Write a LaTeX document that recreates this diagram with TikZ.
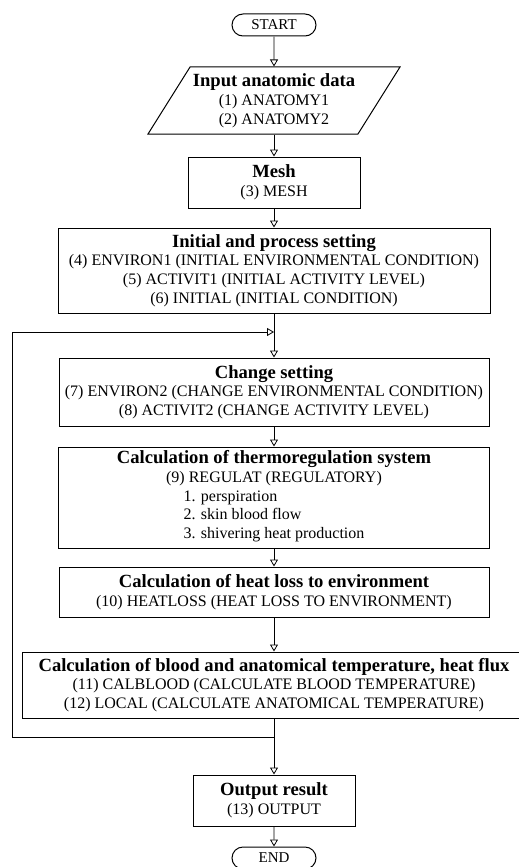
\documentclass[tikz,border=0pt]{standalone}
\usepackage{fontspec}
\setmainfont{Liberation Serif}
\usetikzlibrary{arrows.meta,shapes.geometric,shapes.misc,positioning}
\tikzset{
    flow/.style={-{Triangle[open, length=7pt, width=8pt]}, line width=0.8pt},
    box/.style={draw, rectangle, line width=1pt, align=center, inner sep=0pt, font=\fontsize{16}{18.75}\selectfont},
    term/.style={draw, rounded rectangle, line width=1pt, minimum width=84, minimum height=22, inner sep=0pt, font=\fontsize{15}{15}\selectfont},
    inout/.style={box, trapezium, trapezium left angle=52, trapezium right angle=128, trapezium stretches body, minimum width=252, minimum height=67}
}
\newcommand{\ttl}[1]{{\fontsize{18.6}{18.75}\selectfont\bfseries #1}}

\begin{document}
\begin{tikzpicture}[x=1pt, y=-1pt]
    \useasboundingbox (0,0) rectangle (519,867);
    \node[term] (start) at (274,25) {START};
    \node[inout] (input) at (274,100.5) {\ttl{Input anatomic data}\\(1) ANATOMY1\\(2) ANATOMY2};
    \node[box, minimum width=172, minimum height=51] (mesh) at (274,182.5) {\ttl{Mesh}\\(3) MESH};
    \node[box, minimum width=432, minimum height=85] (init) at (274,270.5) {\ttl{Initial and process setting}\\(4) ENVIRON1 (INITIAL ENVIRONMENTAL CONDITION)\\(5) ACTIVIT1 (INITIAL ACTIVITY LEVEL)\\(6) INITIAL (INITIAL CONDITION)};
    \coordinate (join) at (274,332);
    \node[box, minimum width=430, minimum height=68] (change) at (274,392) {\ttl{Change setting}\\(7) ENVIRON2 (CHANGE ENVIRONMENTAL CONDITION)\\(8) ACTIVIT2 (CHANGE ACTIVITY LEVEL)};
    \node[box, minimum width=431, minimum height=101] (regul) at (274,497.5) {\ttl{Calculation of thermoregulation system}\\(9) REGULAT (REGULATORY)\\
        \begin{tabular}[t]{@{}l@{}}1. perspiration\\2. skin blood flow\\3. shivering heat production\end{tabular}};
    \node[box, minimum width=430, minimum height=50] (heat) at (274,592) {\ttl{Calculation of heat loss to environment}\\(10) HEATLOSS (HEAT LOSS TO ENVIRONMENT)};
    \node[box, minimum width=504, minimum height=66] (blood) at (274,685) {\ttl{Calculation of blood and anatomical temperature, heat flux}\\(11) CALBLOOD (CALCULATE BLOOD TEMPERATURE)\\(12) LOCAL (CALCULATE ANATOMICAL TEMPERATURE)};
    \coordinate (loopbot) at (274,737);
    \coordinate (loopleft) at (12,737);
    \node[box, minimum width=162, minimum height=51] (output) at (274,800.5) {\ttl{Output result}\\(13) OUTPUT};
    \node[term] (end) at (274,858) {END};

    \draw[flow] (start) -- (input);
    \draw[flow] (input) -- (mesh);
    \draw[flow] (mesh) -- (init);
    \draw[flow] (init) -- (change);
    \draw[flow] (change) -- (regul);
    \draw[flow] (regul) -- (heat);
    \draw[flow] (heat) -- (blood);
    \draw[flow] (blood) -- (output);
    \draw[flow] (output) -- (end);
    \draw[flow] (loopbot) -- (loopleft) |- (join);
\end{tikzpicture}
\end{document}
